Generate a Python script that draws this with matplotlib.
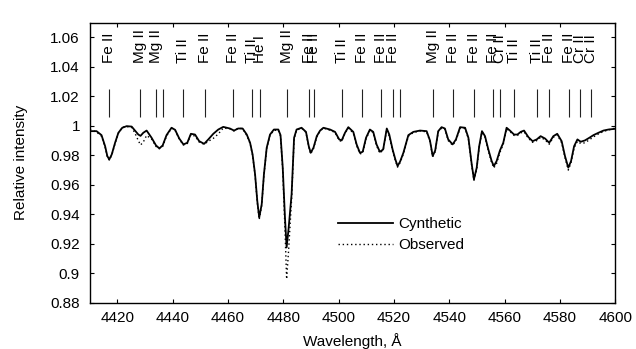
import matplotlib
matplotlib.use("Agg")
import matplotlib.pyplot as plt

plt.rcParams['font.family'] = ['Liberation Sans', 'DejaVu Sans']

# ---- synthetic spectrum (wavelength, relative intensity) ----
syn_wl = [4410.1, 4412.5, 4414.3, 4415.6, 4416.4, 4417.1, 4418.0, 4419.2, 4420.4, 4421.8,
          4423.4, 4425.2, 4426.4, 4427.6, 4428.4, 4429.4, 4430.6, 4432.4, 4434.0, 4435.2,
          4436.4, 4437.8, 4439.6, 4440.9, 4442.4, 4443.9, 4445.3, 4446.6, 4448.1, 4449.6,
          4451.4, 4452.9, 4454.7, 4456.5, 4458.3, 4460.7, 4462.2, 4463.7, 4465.3, 4466.8,
          4468.0, 4468.9, 4469.8, 4470.6, 4471.3, 4472.2, 4473.0, 4474.0, 4475.2, 4476.6,
          4478.2, 4479.0, 4479.8, 4480.6, 4481.2, 4481.9, 4483.0, 4483.9, 4484.8, 4486.6,
          4488.2, 4489.2, 4489.9, 4490.9, 4492.1, 4493.3, 4494.5, 4496.9, 4498.7, 4500.2,
          4501.1, 4502.3, 4503.5, 4505.3, 4506.5, 4507.7, 4508.7, 4509.9, 4511.3, 4512.5,
          4513.7, 4514.9, 4516.1, 4517.4, 4518.3, 4519.5, 4520.5, 4521.3, 4522.2, 4523.4,
          4525.2, 4527.0, 4529.4, 4531.8, 4533.0, 4534.0, 4534.9, 4536.0, 4537.2, 4538.4,
          4539.6, 4541.2, 4542.4, 4543.9, 4545.7, 4546.9, 4548.1, 4548.9, 4549.9, 4550.8,
          4551.8, 4552.9, 4554.1, 4555.3, 4556.1, 4557.1, 4558.3, 4559.5, 4560.7, 4561.9,
          4563.4, 4564.6, 4565.8, 4567.0, 4568.6, 4570.1, 4571.6, 4573.0, 4574.6, 4576.1,
          4577.6, 4579.0, 4580.6, 4581.8, 4583.0, 4584.0, 4585.1, 4586.3, 4587.5, 4589.0,
          4590.6, 4592.1, 4593.9, 4595.7, 4597.5, 4600.0]
syn_flux = [0.9964, 0.9964, 0.9937, 0.9862, 0.9795, 0.9772, 0.9806, 0.9885, 0.9953, 0.9987,
            0.9998, 0.9995, 0.9968, 0.9941, 0.9932, 0.9953, 0.9968, 0.9919, 0.9867, 0.9847,
            0.9867, 0.9937, 0.9987, 0.9973, 0.9914, 0.9874, 0.9885, 0.9946, 0.9941, 0.9896,
            0.9878, 0.9908, 0.9946, 0.9975, 0.9993, 0.9982, 0.9968, 0.9982, 0.9982, 0.9941,
            0.9885, 0.9806, 0.9671, 0.9490, 0.9378, 0.9468, 0.9671, 0.9851, 0.9941, 0.9975,
            0.9975, 0.9937, 0.9716, 0.9378, 0.9175, 0.9300, 0.9536, 0.9919, 0.9975, 0.9987,
            0.9959, 0.9862, 0.9817, 0.9851, 0.9930, 0.9968, 0.9987, 0.9975, 0.9959, 0.9908,
            0.9901, 0.9953, 0.9991, 0.9959, 0.9874, 0.9817, 0.9824, 0.9919, 0.9975, 0.9959,
            0.9874, 0.9824, 0.9840, 0.9982, 0.9941, 0.9840, 0.9772, 0.9727, 0.9757, 0.9817,
            0.9937, 0.9959, 0.9968, 0.9964, 0.9901, 0.9795, 0.9833, 0.9964, 0.9991, 0.9982,
            0.9908, 0.9874, 0.9908, 0.9991, 0.9987, 0.9919, 0.9739, 0.9637, 0.9716, 0.9862,
            0.9964, 0.9930, 0.9840, 0.9761, 0.9727, 0.9761, 0.9833, 0.9885, 0.9987, 0.9968,
            0.9941, 0.9941, 0.9959, 0.9968, 0.9923, 0.9896, 0.9908, 0.9930, 0.9914, 0.9885,
            0.9930, 0.9946, 0.9896, 0.9795, 0.9716, 0.9761, 0.9862, 0.9908, 0.9892, 0.9901,
            0.9919, 0.9937, 0.9953, 0.9968, 0.9975, 0.9980]

# ---- observed spectrum ----
obs_wl = syn_wl
obs_flux = [0.9975, 0.9958, 0.9930, 0.9855, 0.9790, 0.9768, 0.9800, 0.9880, 0.9950, 0.9990,
            0.9995, 0.9990, 0.9950, 0.9900, 0.9870, 0.9890, 0.9935, 0.9910, 0.9860, 0.9845,
            0.9860, 0.9930, 0.9985, 0.9970, 0.9910, 0.9870, 0.9880, 0.9940, 0.9930, 0.9890,
            0.9875, 0.9895, 0.9915, 0.9945, 0.9985, 0.9980, 0.9965, 0.9985, 0.9980, 0.9935,
            0.9880, 0.9800, 0.9665, 0.9480, 0.9365, 0.9460, 0.9665, 0.9845, 0.9935, 0.9970,
            0.9970, 0.9930, 0.9700, 0.9300, 0.8960, 0.9150, 0.9500, 0.9910, 0.9970, 0.9985,
            0.9955, 0.9855, 0.9810, 0.9845, 0.9925, 0.9965, 0.9985, 0.9970, 0.9955, 0.9900,
            0.9895, 0.9950, 0.9985, 0.9950, 0.9865, 0.9810, 0.9815, 0.9910, 0.9970, 0.9955,
            0.9865, 0.9815, 0.9835, 0.9975, 0.9930, 0.9830, 0.9765, 0.9720, 0.9750, 0.9810,
            0.9930, 0.9955, 0.9965, 0.9960, 0.9895, 0.9790, 0.9825, 0.9960, 0.9985, 0.9978,
            0.9900, 0.9868, 0.9900, 0.9985, 0.9982, 0.9912, 0.9730, 0.9630, 0.9705, 0.9855,
            0.9958, 0.9922, 0.9830, 0.9750, 0.9715, 0.9745, 0.9820, 0.9875, 0.9980, 0.9962,
            0.9935, 0.9935, 0.9952, 0.9960, 0.9915, 0.9888, 0.9900, 0.9922, 0.9905, 0.9875,
            0.9922, 0.9940, 0.9885, 0.9785, 0.9700, 0.9750, 0.9850, 0.9895, 0.9880, 0.9885,
            0.9905, 0.9925, 0.9945, 0.9962, 0.9972, 0.9985]

# ---- line identifications ----
line_wl = [4417.0, 4428.2, 4434.0, 4436.4, 4443.8, 4451.7, 4461.9, 4468.6, 4471.6, 4481.2,
           4489.3, 4491.2, 4501.1, 4508.3, 4515.2, 4519.7, 4522.2, 4534.0, 4541.2, 4548.9,
           4555.7, 4558.3, 4563.4, 4571.6, 4576.1, 4583.4, 4587.3, 4591.1]
line_lab = ["Fe II", "Mg II", "Mg II", "", "Ti II", "Fe II", "Fe II", "Ti II", "He I", "Mg II",
            "Fe II", "Fe II", "Ti II", "Fe II", "Fe II", "Fe II", "", "Mg II", "Fe II", "Fe II",
            "Fe II", "Cr II", "Ti II", "Ti II", "Fe II", "Fe II", "Cr II", "Cr II"]

x_ticks = [4420, 4440, 4460, 4480, 4500, 4520, 4540, 4560, 4580, 4600]
y_ticks = [0.88, 0.9, 0.92, 0.94, 0.96, 0.98, 1.0, 1.02, 1.04, 1.06]
y_tick_labels = ["0.88", "0.9", "0.92", "0.94", "0.96", "0.98", "1", "1.02", "1.04", "1.06"]

fig = plt.figure(figsize=(6.36, 3.49), dpi=100)
ax = fig.add_axes([0.1409, 0.1327, 0.8266, 0.8023])

ax.plot(syn_wl, syn_flux, color='black', lw=1.3, label='Cynthetic')
ax.plot(obs_wl, obs_flux, color='black', lw=1.0, linestyle=(0, (1, 2)), label='Observed')

ax.vlines(line_wl, 1.006, 1.025, color='#222222', lw=0.8)
for w, lab in zip(line_wl, line_lab):
    if lab:
        ax.text(w, 1.0424, lab, rotation=90, ha='center', va='bottom', fontsize=11)

ax.set_xlim(4410, 4600)
ax.set_ylim(0.88, 1.07)
ax.set_xticks(x_ticks)
ax.set_yticks(y_ticks)
ax.set_yticklabels(y_tick_labels)
ax.tick_params(direction='in', length=3.2, width=0.8, top=True, right=True, labelsize=11)
ax.tick_params(axis='y', pad=7)
ax.tick_params(axis='x', pad=6)
for s in ax.spines.values():
    s.set_linewidth(1.0)

ax.set_xlabel("Wavelength, Å", fontsize=11, labelpad=6)
ax.set_ylabel("Relative intensity", fontsize=11, labelpad=16)

ax.legend(loc='upper left', bbox_to_anchor=(0.4725, 0.305), frameon=False, fontsize=11,
          handlelength=3.6, handletextpad=0.35, labelspacing=0.45, borderpad=0, borderaxespad=0)

fig.savefig("out.png", dpi=100)
